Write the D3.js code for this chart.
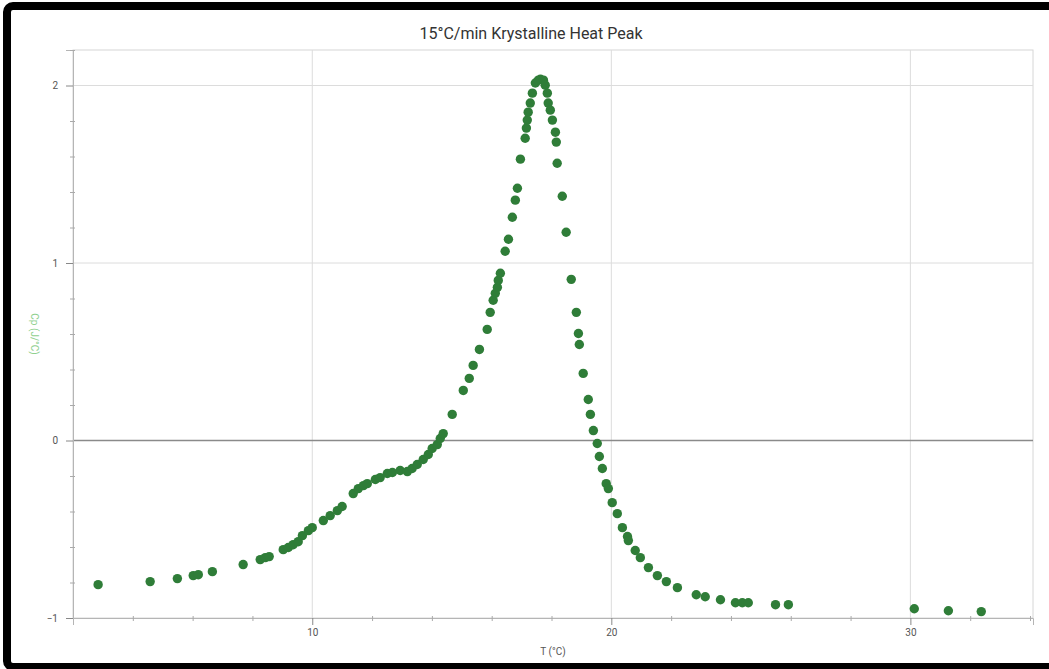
<!DOCTYPE html>
<html>
<head>
<meta charset="utf-8">
<script src="https://cdn.jsdelivr.net/npm/d3@7"></script>
<style>
  html, body { margin: 0; padding: 0; background: #fff; }
  svg { display: block; }
  text { font-family: Roboto, "Noto Sans", sans-serif; }
</style>
</head>
<body>
<svg id="chart" width="1049" height="669"></svg>
<script>
// Temperature (°C) of each measured point
const temps = [
  2.84, 4.58, 5.49, 6.02, 6.19, 6.66, 7.69, 8.26, 8.43, 8.56,
  9.03, 9.20, 9.36, 9.53, 9.67, 9.87, 10.00, 10.37, 10.60, 10.84,
  11.00, 11.37, 11.54, 11.71, 11.84, 12.11, 12.27, 12.51, 12.68, 12.94,
  13.18, 13.34, 13.51, 13.71, 13.88, 14.01, 14.18, 14.28, 14.38, 14.68,
  15.05, 15.25, 15.38, 15.59, 15.85, 15.95, 16.05, 16.12, 16.19, 16.22,
  16.29, 16.45, 16.56, 16.69, 16.79, 16.86, 16.96, 17.12, 17.16, 17.19,
  17.22, 17.29, 17.36, 17.46, 17.56, 17.63, 17.73, 17.79, 17.86, 17.89,
  17.96, 18.03, 18.13, 18.16, 18.19, 18.36, 18.49, 18.66, 18.83, 18.90,
  18.93, 19.06, 19.23, 19.30, 19.40, 19.53, 19.60, 19.70, 19.83, 19.90,
  20.03, 20.20, 20.37, 20.54, 20.57, 20.80, 20.97, 21.24, 21.54, 21.84,
  22.21, 22.84, 23.14, 23.65, 24.15, 24.38, 24.58, 25.49, 25.92, 30.13,
  31.27, 32.37
];

// Heat capacity signal for each temperature
const cpValues = [
  -0.812, -0.795, -0.778, -0.761, -0.756, -0.739, -0.699, -0.671, -0.660, -0.654,
  -0.615, -0.603, -0.587, -0.570, -0.536, -0.508, -0.491, -0.451, -0.423, -0.395,
  -0.372, -0.299, -0.271, -0.254, -0.243, -0.220, -0.209, -0.186, -0.180, -0.169,
  -0.175, -0.158, -0.135, -0.107, -0.079, -0.045, -0.023, 0.011, 0.039, 0.147,
  0.282, 0.350, 0.423, 0.513, 0.626, 0.722, 0.790, 0.829, 0.863, 0.902,
  0.942, 1.066, 1.134, 1.258, 1.354, 1.421, 1.585, 1.703, 1.760, 1.805,
  1.850, 1.901, 1.957, 2.014, 2.030, 2.035, 2.030, 2.002, 1.957, 1.901,
  1.861, 1.805, 1.737, 1.681, 1.562, 1.376, 1.173, 0.908, 0.722, 0.603,
  0.541, 0.378, 0.231, 0.147, 0.056, -0.017, -0.090, -0.158, -0.243, -0.271,
  -0.350, -0.412, -0.491, -0.541, -0.564, -0.620, -0.660, -0.716, -0.761, -0.795,
  -0.829, -0.869, -0.880, -0.897, -0.914, -0.914, -0.914, -0.925, -0.925, -0.948,
  -0.959, -0.964
];

const xMajorTicks = [10, 20, 30];
const xMinorTicks = [4, 6, 8, 12, 14, 16, 18, 22, 24, 26, 28, 32, 34];
const yMajorTicks = [-1, 0, 1, 2];
const yMinorTicks = [-0.8, -0.6, -0.4, -0.2, 0.2, 0.4, 0.6, 0.8, 1.2, 1.4, 1.6, 1.8, 2.2];

const titleText = "15°C/min Krystalline Heat Peak";
const xLabelText = "T (°C)";
const yLabelText = "Cp (J/°C)";

const svg = d3.select("#chart");
const plot = { left: 73, right: 1033, top: 50, bottom: 618 };

const x = d3.scaleLinear().domain([2.0, 34.1]).range([plot.left, plot.right]);
const y = d3.scaleLinear().domain([-1, 2.2]).range([plot.bottom, plot.top]);

// outer black frame
svg.append("rect")
  .attr("x", 7).attr("y", 6)
  .attr("width", 1100).attr("height", 661)
  .attr("rx", 6)
  .attr("fill", "none")
  .attr("stroke", "#000")
  .attr("stroke-width", 8);

// title
svg.append("text")
  .attr("x", 531).attr("y", 39)
  .attr("text-anchor", "middle")
  .attr("font-size", 16)
  .attr("fill", "#333")
  .text(titleText);

// plot frame
svg.append("rect")
  .attr("x", plot.left).attr("y", plot.top)
  .attr("width", plot.right - plot.left)
  .attr("height", plot.bottom - plot.top)
  .attr("fill", "none")
  .attr("stroke", "#d6d6d6")
  .attr("stroke-width", 1);

// grid lines at major ticks
const grid = svg.append("g");
grid.selectAll("line.vx")
  .data(xMajorTicks)
  .join("line")
  .attr("x1", d => x(d)).attr("x2", d => x(d))
  .attr("y1", plot.top).attr("y2", plot.bottom)
  .attr("stroke", "#dcdcdc").attr("stroke-width", 1);
grid.selectAll("line.hy")
  .data(yMajorTicks.filter(d => d !== -1 && d !== 0))
  .join("line")
  .attr("x1", plot.left).attr("x2", plot.right)
  .attr("y1", d => y(d)).attr("y2", d => y(d))
  .attr("stroke", "#dcdcdc").attr("stroke-width", 1);

// zero line
svg.append("line")
  .attr("x1", plot.left).attr("x2", plot.right)
  .attr("y1", y(0)).attr("y2", y(0))
  .attr("stroke", "#8a8a8a").attr("stroke-width", 1.5);

// x axis
const xAxis = d3.axisBottom(x)
  .tickValues(xMajorTicks)
  .tickSize(7)
  .tickPadding(4)
  .tickFormat(d3.format("d"));
const gx = svg.append("g")
  .attr("transform", `translate(0,${plot.bottom})`)
  .call(xAxis);
gx.select(".domain").attr("stroke", "#b5b5b5");
gx.selectAll(".tick line").attr("stroke", "#888");
gx.selectAll(".tick text").attr("fill", "#555").attr("font-size", 10)
  .attr("font-family", "Roboto, 'Noto Sans', sans-serif");

const gxMinor = svg.append("g")
  .attr("transform", `translate(0,${plot.bottom})`)
  .call(d3.axisBottom(x).tickValues(xMinorTicks.filter(d => d <= 34)).tickSize(3).tickFormat(""));
gxMinor.select(".domain").remove();
gxMinor.selectAll(".tick line").attr("stroke", "#aaa").attr("y1", -2);

// y axis
const yAxis = d3.axisLeft(y)
  .tickValues(yMajorTicks)
  .tickSize(7)
  .tickPadding(8)
  .tickFormat(d3.format("d"));
const gy = svg.append("g")
  .attr("transform", `translate(${plot.left},0)`)
  .call(yAxis);
gy.select(".domain").attr("stroke", "#b5b5b5");
gy.selectAll(".tick line").attr("stroke", "#888");
gy.selectAll(".tick text").attr("fill", "#555").attr("font-size", 10)
  .attr("font-family", "Roboto, 'Noto Sans', sans-serif");

const gyMinor = svg.append("g")
  .attr("transform", `translate(${plot.left},0)`)
  .call(d3.axisLeft(y).tickValues(yMinorTicks).tickSize(3).tickFormat(""));
gyMinor.select(".domain").remove();
gyMinor.selectAll(".tick line").attr("stroke", "#aaa").attr("x1", 2);

// axis titles, centred on the plot area
svg.append("text")
  .attr("x", (plot.left + plot.right) / 2).attr("y", 655)
  .attr("text-anchor", "middle")
  .attr("font-size", 10)
  .attr("fill", "#555")
  .text(xLabelText);

svg.append("text")
  .attr("transform", `translate(31,${(plot.top + plot.bottom) / 2}) rotate(90)`)
  .attr("text-anchor", "middle")
  .attr("font-size", 10)
  .attr("fill", "#8fd08f")
  .text(yLabelText);

// data points
svg.append("g")
  .selectAll("circle")
  .data(d3.zip(temps, cpValues))
  .join("circle")
  .attr("cx", d => x(d[0]))
  .attr("cy", d => y(d[1]))
  .attr("r", 4.7)
  .attr("fill", "#2f7d38");
</script>
</body>
</html>
